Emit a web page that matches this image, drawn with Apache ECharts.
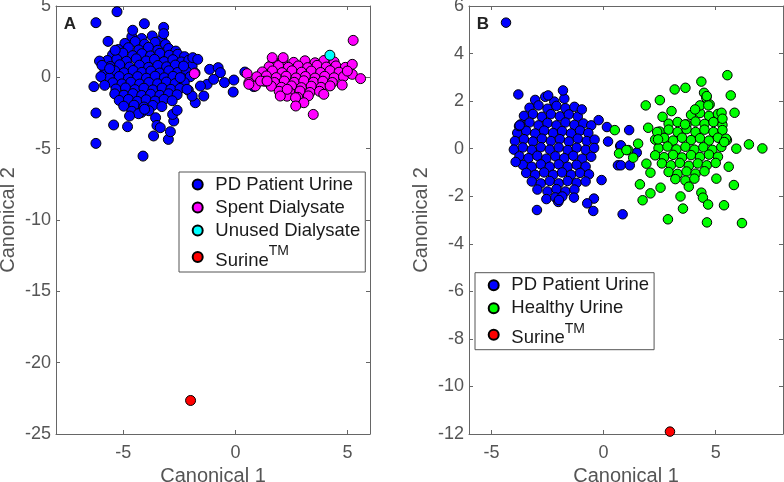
<!DOCTYPE html>
<html>
<head>
<meta charset="utf-8">
<script src="https://cdn.jsdelivr.net/npm/echarts@6/dist/echarts.min.js"></script>
<style>html,body{margin:0;padding:0;background:#fff;}#c{width:784px;height:482px;}</style>
</head>
<body>
<div id="c"></div>
<script>
// ---------- tick labels ----------
const xTicksA = [-5, 0, 5];
const xTicksB = [-5, 0, 5];
const xRangeA = [-8, 6];
const yRangeA = [-25, 5];
const xRangeB = [-6, 8];
const yRangeB = [-12, 6];

// ---------- Panel A data ----------
const pdUrineA = [
  [-4.62,2.85],[-4.18,2.72],[-3.71,2.9],[-3.28,2.66],
  [-4.93,2.38],[-4.47,2.51],[-4.05,2.33],[-3.58,2.45],[-3.12,2.3],
  [-5.22,1.95],[-4.77,2.08],[-4.31,1.92],[-3.88,2.1],[-3.46,1.9],[-2.98,2.02],[-2.66,1.84],
  [-5.48,1.58],[-5.02,1.7],[-4.58,1.52],[-4.17,1.66],[-3.79,1.5],[-3.37,1.68],[-2.95,1.55],[-2.57,1.62],[-2.27,1.45],
  [-5.71,1.18],[-5.29,1.27],[-4.86,1.12],[-4.42,1.3],[-3.98,1.15],[-3.61,1.26],[-3.18,1.1],[-2.79,1.24],[-2.41,1.08],[-2.08,1.2],
  [-5.58,0.76],[-5.16,0.88],[-4.72,0.72],[-4.28,0.85],[-3.87,0.7],[-3.46,0.83],[-3.07,0.74],[-2.68,0.86],[-2.29,0.7],[-1.93,0.8],
  [-5.82,0.38],[-5.38,0.45],[-4.97,0.32],[-4.56,0.48],[-4.17,0.35],[-3.77,0.44],[-3.38,0.3],[-2.97,0.46],[-2.58,0.34],[-2.19,0.42],[-1.8,0.3],
  [-5.61,-0.04],[-5.18,0.06],[-4.77,-0.08],[-4.36,0.05],[-3.97,-0.06],[-3.58,0.08],[-3.17,-0.03],[-2.78,0.07],[-2.39,-0.05],[-2.02,0.04],
  [-5.47,-0.38],[-5.06,-0.46],[-4.66,-0.34],[-4.27,-0.47],[-3.86,-0.36],[-3.47,-0.45],[-3.08,-0.33],[-2.69,-0.44],[-2.28,-0.36],
  [-5.33,-0.82],[-4.9,-0.74],[-4.48,-0.86],[-4.08,-0.76],[-3.68,-0.88],[-3.27,-0.75],[-2.88,-0.84],[-2.47,-0.78],[-2.1,-0.9],
  [-5.38,-1.16],[-4.97,-1.25],[-4.57,-1.14],[-4.18,-1.27],[-3.78,-1.18],[-3.37,-1.26],[-2.98,-1.15],[-2.6,-1.22],
  [-5.18,-1.62],[-4.77,-1.55],[-4.38,-1.68],[-3.98,-1.57],[-3.58,-1.66],[-3.18,-1.54],[-2.82,-1.64],
  [-4.98,-2.02],[-4.52,-1.95],[-4.08,-2.08],[-3.68,-1.97],[-3.28,-2.05],
  [-4.62,-2.38],[-4.19,-2.46],[-3.86,-2.34],
  [-6.22,3.83],[-5.28,4.6],[-4.06,3.76],[-3.2,3.5],[-3.2,3.06],[-4.58,3.3],[-5.68,2.52],[-5.36,1.9],
  [-6.06,1.14],[-5.95,0.84],[-6.0,0.05],[-6.31,-0.65],[-5.83,-0.56],[-6.22,-2.5],[-6.22,-4.63],
  [-5.43,-3.34],[-4.81,-3.46],[-4.12,-5.52],[-3.65,-4.11],[-3.56,-2.83],[-3.5,-3.37],[-3.35,-3.53],
  [-2.99,-4.35],[-2.9,-3.81],[-2.75,-3.06],[-2.8,-2.6],[-2.6,-2.31],[-4.32,-2.55],[-4.72,-2.71],[-4.05,-2.24],
  [-1.9,1.38],[-1.68,1.26],[-1.79,-1.78],[-1.41,-1.31],[-1.15,0.56],[-0.77,0.68],[-0.67,0.33],[-0.49,-0.37],
  [-0.07,-0.19],[-0.1,-1.03],[0.42,0.37],[0.82,-0.65],[-1.26,-0.49],[-0.97,-0.14],[-1.56,-0.61],[-1.93,-1.31],
  [-2.16,-0.84],[-2.46,-0.02],[-2.31,0.79],[-5.61,0.61]
];
const spentDialysateA = [
  [1.68,1.12],[2.12,1.2],[2.6,1.05],[3.1,1.16],[3.55,1.02],[3.95,1.18],[4.4,1.08],
  [1.5,0.74],[1.92,0.82],[2.36,0.7],[2.8,0.8],[3.22,0.68],[3.64,0.84],[4.05,0.72],[4.48,0.8],[4.9,0.7],
  [1.2,0.38],[1.65,0.45],[2.08,0.33],[2.52,0.46],[2.95,0.36],[3.38,0.44],[3.8,0.34],[4.22,0.47],[4.62,0.36],[5.05,0.44],
  [0.95,0.04],[1.38,0.1],[1.82,-0.02],[2.26,0.08],[2.7,-0.04],[3.12,0.06],[3.55,-0.05],[3.98,0.07],[4.4,-0.03],[4.82,0.05],
  [1.3,-0.28],[1.74,-0.36],[2.18,-0.26],[2.62,-0.35],[3.05,-0.24],[3.48,-0.34],[3.9,-0.27],[4.32,-0.36],
  [1.6,-0.62],[2.05,-0.7],[2.5,-0.6],[2.94,-0.72],[3.38,-0.62],[3.82,-0.7],[4.22,-0.6],
  [1.95,-0.98],[2.42,-1.05],[2.88,-0.96],[3.32,-1.06],[3.75,-0.98],
  [2.3,-1.32],[2.78,-1.4],[3.25,-1.3],
  [-1.83,0.26],[0.52,0.26],[0.6,-0.37],[0.89,-0.61],[1.12,-0.26],[1.41,-0.26],[1.64,1.38],[2.13,1.38],
  [2.0,-1.31],[2.31,-0.84],[3.05,-1.78],[3.47,-2.6],[2.68,-1.43],[2.69,-2.01],[3.94,-1.19],[4.76,-0.54],
  [5.21,0.91],[5.21,0.21],[5.58,-0.09],[4.99,0.44],[5.25,2.59],[0.6,-0.49]
];
const unusedDialysateA = [[4.21,1.55]];
const surineA = [[-2.0,-22.65]];

// ---------- Panel B data ----------
const pdUrineB = [
  [-3.05,2.05],[-2.6,2.18],[-2.2,1.98],[-1.75,2.1],
  [-3.3,1.72],[-2.9,1.82],[-2.5,1.68],[-2.1,1.8],[-1.7,1.7],[-1.3,1.76],
  [-3.55,1.38],[-3.15,1.46],[-2.75,1.34],[-2.35,1.45],[-1.95,1.36],[-1.55,1.44],[-1.15,1.35],
  [-3.7,1.02],[-3.3,1.1],[-2.9,0.98],[-2.5,1.08],[-2.1,0.98],[-1.7,1.1],[-1.3,1.0],[-0.9,1.06],[-0.55,0.98],
  [-3.85,0.66],[-3.45,0.75],[-3.05,0.64],[-2.65,0.76],[-2.25,0.66],[-1.85,0.74],[-1.45,0.64],[-1.05,0.76],[-0.68,0.66],
  [-3.95,0.32],[-3.55,0.4],[-3.15,0.3],[-2.75,0.42],[-2.35,0.32],[-1.95,0.4],[-1.55,0.3],[-1.15,0.42],[-0.75,0.32],[-0.4,0.38],
  [-4.0,-0.04],[-3.6,0.05],[-3.2,-0.05],[-2.8,0.06],[-2.4,-0.04],[-2.0,0.05],[-1.6,-0.06],[-1.2,0.04],[-0.8,-0.05],[-0.42,0.03],
  [-3.75,-0.32],[-3.35,-0.4],[-2.95,-0.3],[-2.55,-0.42],[-2.15,-0.32],[-1.75,-0.4],[-1.35,-0.3],[-0.95,-0.42],[-0.55,-0.34],
  [-3.6,-0.68],[-3.2,-0.76],[-2.8,-0.66],[-2.4,-0.76],[-2.0,-0.66],[-1.6,-0.76],[-1.2,-0.68],[-0.8,-0.75],
  [-3.45,-1.02],[-3.05,-1.1],[-2.65,-1.0],[-2.25,-1.1],[-1.85,-1.0],[-1.45,-1.1],[-1.05,-1.02],[-0.65,-1.08],
  [-3.2,-1.38],[-2.8,-1.46],[-2.4,-1.36],[-2.0,-1.46],[-1.6,-1.36],[-1.2,-1.44],[-0.8,-1.38],
  [-2.95,-1.72],[-2.5,-1.8],[-2.1,-1.7],[-1.7,-1.8],[-1.3,-1.72],
  [-2.55,-2.12],[-2.15,-2.05],
  [-4.35,5.3],[-3.8,2.28],[-1.81,2.45],[-2.47,2.24],[-3.77,0.95],[1.14,0.78],[-0.22,1.2],[0.15,0.91],
  [-0.97,1.65],[0.74,0.11],[-2.97,-2.58],[-0.43,-2.1],[-0.73,-2.3],[-0.46,-2.62],[-2.02,-2.24],[-1.84,-2.01],
  [-1.32,-2.06],[-3.92,-0.56],[-3.74,0.98],[-0.09,-1.32],[0.64,-0.7],[1.48,-0.17],[0.85,-2.76],[0.77,0.14],
  [0.77,-0.7],[1.17,-0.7],[-1.99,-2.16],[0.2,0.3]
];
const healthyUrineB = [
  [3.9,1.42],[4.3,1.5],[4.7,1.38],[5.1,1.46],
  [2.9,1.05],[3.3,1.12],[3.7,1.02],[4.1,1.14],[4.5,1.04],[4.9,1.12],[5.3,1.0],
  [2.5,0.72],[2.9,0.8],[3.3,0.7],[3.7,0.82],[4.1,0.7],[4.5,0.8],[4.9,0.7],[5.3,0.78],
  [2.3,0.38],[2.7,0.45],[3.1,0.34],[3.5,0.46],[3.9,0.36],[4.3,0.44],[4.7,0.34],[5.1,0.46],[5.5,0.36],
  [2.45,0.02],[2.85,0.09],[3.25,-0.03],[3.65,0.08],[4.05,-0.04],[4.45,0.06],[4.85,-0.05],[5.25,0.07],
  [2.3,-0.28],[2.7,-0.36],[3.1,-0.26],[3.5,-0.37],[3.9,-0.27],[4.3,-0.35],[4.7,-0.25],[5.1,-0.34],
  [2.6,-0.62],[3.0,-0.7],[3.4,-0.6],[3.8,-0.72],[4.2,-0.62],[4.6,-0.7],[5.0,-0.6],
  [2.9,-0.98],[3.3,-1.06],[3.7,-0.96],[4.1,-1.05],[4.5,-0.95],
  [3.2,-1.28],[3.65,-1.34],[4.05,-1.26],
  [5.52,3.09],[4.36,2.82],[3.65,2.56],[3.17,2.49],[2.51,2.04],[1.88,1.82],[5.67,2.24],[5.84,1.51],
  [4.48,2.35],[4.58,2.14],[4.73,1.86],[3.03,1.58],[2.63,1.34],[1.99,0.88],[1.54,0.21],[0.5,0.78],
  [0.69,-0.2],[1.1,-0.06],[1.32,-0.38],[1.91,-0.63],[2.09,-1.01],[1.62,-1.5],[2.09,-1.88],[1.74,-2.17],
  [2.54,-1.64],[3.43,-2.01],[3.54,-2.52],[2.87,-2.97],[3.8,-1.6],[4.36,-1.85],[4.43,-2.06],[4.66,-2.35],
  [4.61,-3.1],[5.37,-2.38],[5.03,-1.26],[5.58,-0.76],[5.81,-1.53],[5.92,0.0],[6.48,0.18],[7.08,0.01],
  [6.17,-3.13],[2.39,0.7],[2.43,0.39],[4.3,1.82],[4.67,1.82],[4.6,2.21],[5.26,1.51],[5.3,1.26],
  [5.46,0.42],[5.38,0.28],[3.63,1.02],[4.08,1.65],[1.02,-0.06]
];
const surineB = [[2.96,-11.9]];

const legendA = ['PD Patient Urine', 'Spent Dialysate', 'Unused Dialysate', 'Surine'];
const legendB = ['PD Patient Urine', 'Healthy Urine', 'Surine'];

// ---------- styling ----------
const FONT = "'Liberation Sans', Arial, Helvetica, sans-serif";
const AXIS = '#666';
const LABEL = '#555';

function valAxis(grid, range, opts) {
  return Object.assign({
    type: 'value', gridIndex: grid, min: range[0], max: range[1],
    axisLine: { show: true, onZero: false, lineStyle: { color: AXIS, width: 1 } },
    axisTick: { show: true, inside: true, length: 4, lineStyle: { color: AXIS } },
    splitLine: { show: false },
    axisLabel: { color: LABEL, fontSize: 18, fontFamily: FONT },
    nameTextStyle: { color: LABEL, fontSize: 20, fontFamily: FONT }
  }, opts);
}
function xAx(grid, range, ticks, mirror) {
  const a = valAxis(grid, range, {
    position: mirror ? 'top' : 'bottom',
    axisTick: { show: true, inside: true, length: 4, lineStyle: { color: AXIS }, customValues: ticks },
    axisLabel: { show: !mirror, color: LABEL, fontSize: 18, fontFamily: FONT, margin: 10, customValues: ticks }
  });
  if (!mirror) { a.name = 'Canonical 1'; a.nameLocation = 'middle'; a.nameGap = 29; }
  return a;
}
function yAx(grid, range, interval, mirror) {
  const a = valAxis(grid, range, {
    position: mirror ? 'right' : 'left', interval: interval
  });
  a.axisLabel = { show: !mirror, color: LABEL, fontSize: 18, fontFamily: FONT, margin: 5 };
  if (!mirror) { a.name = 'Canonical 2'; a.nameLocation = 'middle'; a.nameGap = 38; }
  return a;
}
function sc(name, data, color, xi, size) {
  return {
    type: 'scatter', name: name, data: data, xAxisIndex: xi, yAxisIndex: xi,
    symbol: 'circle', symbolSize: size,
    itemStyle: { color: color, borderColor: '#000', borderWidth: 1, opacity: 1 },
    emphasis: { disabled: true }, silent: true
  };
}
const rich = {
  n: { fontSize: 18.5, fontFamily: FONT, color: '#1a1a1a' },
  b: { fontSize: 18.5, fontFamily: FONT, color: '#1a1a1a', lineHeight: 26, verticalAlign: 'bottom' },
  s: { fontSize: 14, fontFamily: FONT, color: '#1a1a1a', lineHeight: 14, verticalAlign: 'top' }
};
function legend(left, top, names) {
  return {
    left: left, top: top, orient: 'vertical', data: names,
    icon: 'circle', itemWidth: 10, itemHeight: 10, itemGap: 4,
    padding: [3, 5, 2, 12.7],
    borderColor: '#555', borderWidth: 1, backgroundColor: '#fff',
    selectedMode: false,
    formatter: function (n) { return n === 'Surine' ? '{b|Surine}{s|TM}' : '{n|' + n + '}'; },
    textStyle: { fontSize: 18.5, fontFamily: FONT, color: '#1a1a1a', padding: [0, 0, 0, 7.6], rich: rich }
  };
}

const chart = echarts.init(document.getElementById('c'), null, { renderer: 'canvas' });
chart.setOption({
  animation: false,
  backgroundColor: '#fff',
  grid: [
    { left: 56, top: 6, width: 314, height: 428, outerBoundsMode: 'none', containLabel: false },
    { left: 469, top: 6, width: 314, height: 428, outerBoundsMode: 'none', containLabel: false }
  ],
  xAxis: [
    xAx(0, xRangeA, xTicksA, false), xAx(1, xRangeB, xTicksB, false),
    xAx(0, xRangeA, xTicksA, true), xAx(1, xRangeB, xTicksB, true)
  ],
  yAxis: [
    yAx(0, yRangeA, 5, false), yAx(1, yRangeB, 2, false),
    yAx(0, yRangeA, 5, true), yAx(1, yRangeB, 2, true)
  ],
  legend: [legend(179, 172, legendA), legend(475, 272.7, legendB)],
  graphic: [
    { type: 'text', x: 70, y: 24.5, style: { text: 'A', fontSize: 17, fontWeight: 'bold', fontFamily: FONT, fill: '#222', align: 'center', verticalAlign: 'middle' } },
    { type: 'text', x: 483, y: 24.5, style: { text: 'B', fontSize: 17, fontWeight: 'bold', fontFamily: FONT, fill: '#222', align: 'center', verticalAlign: 'middle' } }
  ],
  series: [
    sc('PD Patient Urine', pdUrineA, '#0000ff', 0, 10),
    sc('Spent Dialysate', spentDialysateA, '#ff00ff', 0, 10),
    sc('Unused Dialysate', unusedDialysateA, '#00ffff', 0, 10),
    sc('Surine', surineA, '#ff0000', 0, 10),
    sc('PD Patient Urine', pdUrineB, '#0000ff', 1, 9.5),
    sc('Healthy Urine', healthyUrineB, '#00ff00', 1, 9.5),
    sc('Surine', surineB, '#ff0000', 1, 9.5)
  ]
});
</script>
</body>
</html>
